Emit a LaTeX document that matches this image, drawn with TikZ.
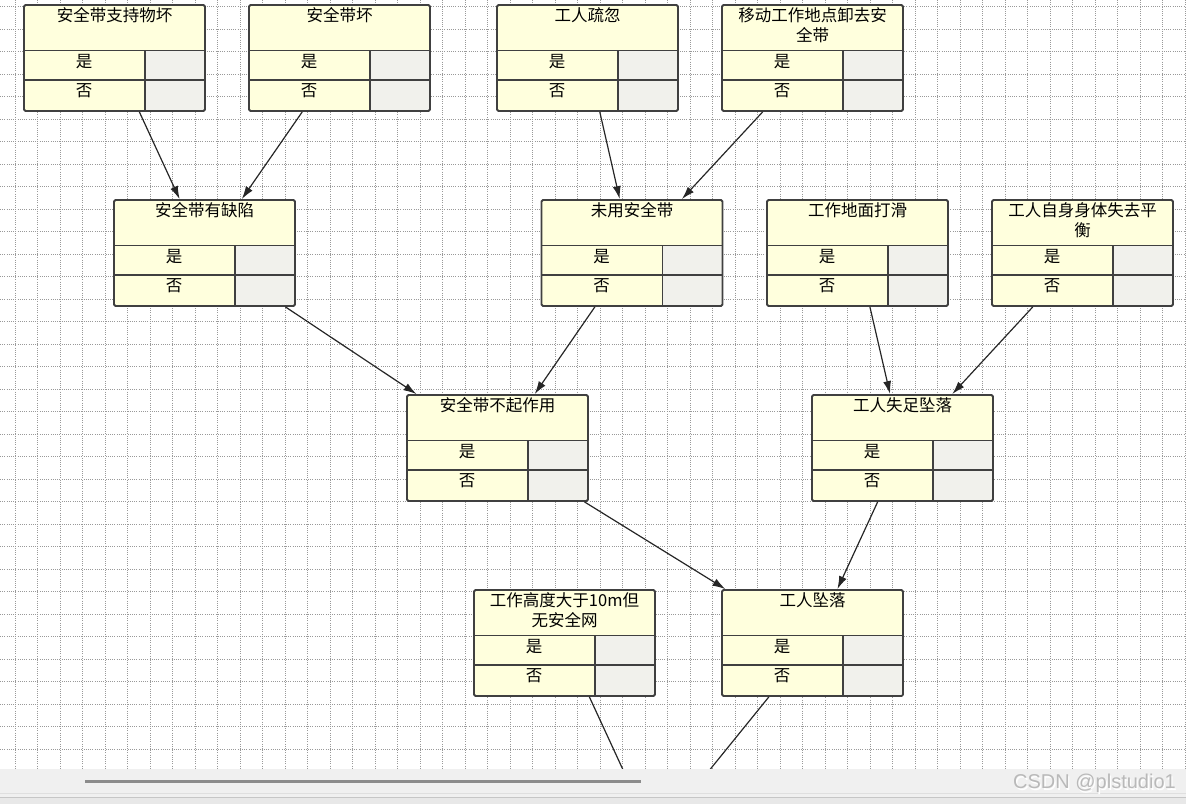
\documentclass[tikz,border=0pt]{standalone}
\usepackage{fontspec}
\setmainfont{Noto Sans CJK SC}
\newfontfamily\wmfont{Liberation Sans}
\usepackage{xcolor}
\usepackage{tikz}
\usetikzlibrary{arrows.meta, positioning, calc}

\definecolor{bnyellow}{RGB}{255,255,221}
\definecolor{bngrey}{RGB}{241,241,236}
\definecolor{bnborder}{RGB}{64,64,64}
\definecolor{bandgrey}{RGB}{240,240,240}

\begin{document}
\begin{tikzpicture}[
    x=1pt, y=-1pt,
    gridline/.style={gray!80, line width=0.7pt, dash pattern=on 1pt off 1.2pt},
    bn/.style={draw=bnborder, line width=1.8pt, rounded corners=1.5pt, fill=bnyellow,
        minimum width=181pt, minimum height=106pt, inner sep=0pt,
        path picture={
            \fill[bngrey] ([xshift=-60pt,yshift=-45.5pt]path picture bounding box.north east) rectangle (path picture bounding box.south east);
            \draw[bnborder, line width=1.6pt] ([yshift=-45.5pt]path picture bounding box.north west) -- ([yshift=-45.5pt]path picture bounding box.north east);
            \draw[bnborder, line width=1.6pt] ([yshift=-75pt]path picture bounding box.north west) -- ([yshift=-75pt]path picture bounding box.north east);
            \draw[bnborder, line width=1.6pt] ([xshift=-60pt,yshift=-45.5pt]path picture bounding box.north east) -- ([xshift=-60pt]path picture bounding box.south east);
        }},
    bntitle/.style={anchor=north, align=center, inner sep=0pt, font=\fontsize{16.5}{19.5}\selectfont},
    bnstate/.style={inner sep=0pt, font=\fontsize{16.5}{16.5}\selectfont},
    edge/.style={-{Latex[length=13pt, width=8pt]}, black!85, line width=1.2pt}
]
\useasboundingbox (0,0) rectangle (1186,804);

% grid
\foreach \k in {0,...,52} \draw[gridline] (15+22.5*\k,0) -- (15+22.5*\k,769);
\foreach \k in {0,...,33} \draw[gridline] (0,6.8+22.5*\k) -- (1186,6.8+22.5*\k);

% nodes
\foreach \n/\cx/\cy/\lbl in {
    zhichi/114.5/58/安全带支持物坏,
    daihuai/339.5/58/安全带坏,
    shuhu/587.5/58/工人疏忽,
    xiedai/812.5/58/{移动工作地点卸去安\\全带},
    quexian/204.5/253/安全带有缺陷,
    weiyong/632/253/未用安全带,
    dahua/857.5/253/工作地面打滑,
    pingheng/1082.5/253/{工人自身身体失去平\\衡},
    buqi/497.5/448/安全带不起作用,
    shizu/902.5/448/工人失足坠落,
    gaodu/564.5/643/{工作高度大于10m但\\无安全网},
    zhuiluo/812.5/643/工人坠落}{
  \node[bn] (\n) at (\cx,\cy) {};
  \node[bntitle] (\n-t) at ([yshift=-3.5pt]\n.north) {\lbl};
  \node[bnstate] (\n-y) at ([xshift=-30.5pt,yshift=-57pt]\n.north) {是};
  \node[bnstate] (\n-f) at ([xshift=-30.5pt,yshift=-87pt]\n.north) {否};
}

% arcs
\coordinate (xiaji) at (654.5,838);
\begin{scope}
  \clip (0,0) rectangle (1186,769);
  \foreach \a/\b in {zhichi/quexian, daihuai/quexian, shuhu/weiyong, xiedai/weiyong,
      quexian/buqi, weiyong/buqi, dahua/shizu, pingheng/shizu,
      buqi/zhuiluo, shizu/zhuiluo, gaodu/xiaji, zhuiluo/xiaji}
    \draw[edge] (\a) -- (\b);
\end{scope}

% scroll bar
\fill[bandgrey] (0,769) rectangle (1186,804);
\draw[gray!90, line width=3pt] (85,781.5) -- (641,781.5);
\draw[gray!25, line width=1pt] (0,793) -- (1186,793);
\fill[gray!18] (0,797) rectangle (1186,804);
\draw[gray!45, line width=1pt] (0,797) -- (1186,797);
\node[font=\wmfont\fontsize{20}{20}\selectfont, text=white] (wm-s) at (1095.8,785) {CSDN @plstudio1};
\node[font=\wmfont\fontsize{20}{20}\selectfont, text=gray!55] (wm) at (1094.5,783.8) {CSDN @plstudio1};
\end{tikzpicture}
\end{document}
